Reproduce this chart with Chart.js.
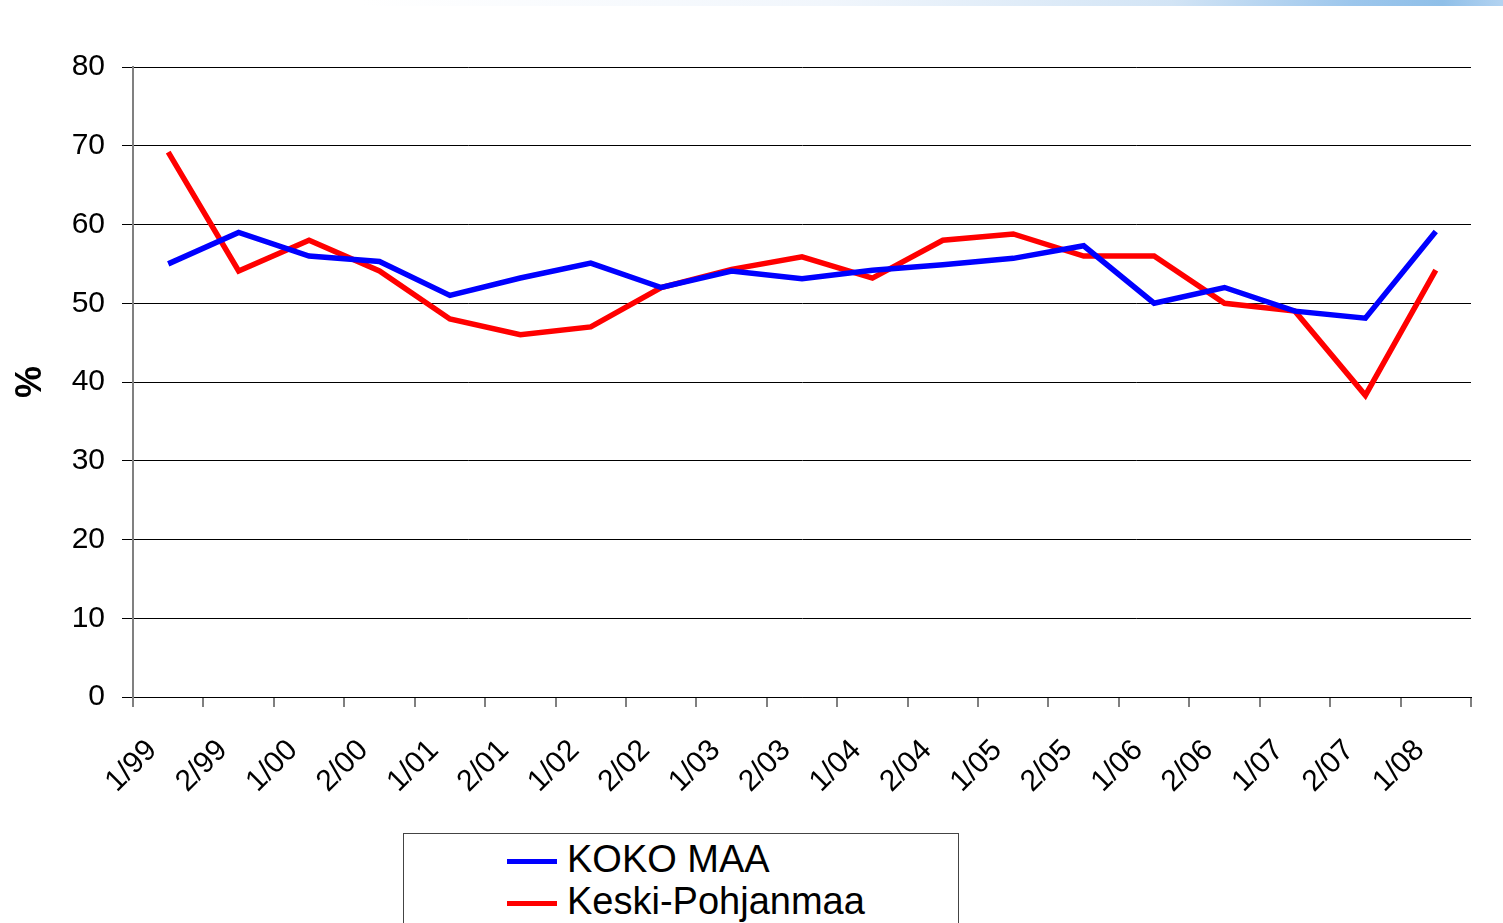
<!DOCTYPE html>
<html>
<head>
<meta charset="utf-8">
<script src="https://cdn.jsdelivr.net/npm/chart.js@4.4.1/dist/chart.umd.min.js"></script>
<style>
    html, body { margin: 0; padding: 0; background: #fff; overflow: hidden; }
    #wrap { position: relative; width: 1503px; height: 923px; overflow: hidden; }
    #topbar {
        position: absolute; left: 0; top: 0; width: 1503px; height: 6px;
        background: linear-gradient(to right, #ffffff 24%, #f1f6fc 55%, #d2e4f5 78%, #9cc6ec 90%, #8fbfe8 96%, #b3d3f1 100%);
    }
    #legend {
        position: absolute; left: 403px; top: 833px; width: 554px; height: 120px;
        border: 1px solid #444; background: #fff;
        font-family: "Liberation Sans", Arial, sans-serif; font-size: 38px; color: #000;
    }
    .item { position: absolute; left: 103px; height: 42px; line-height: 42px; white-space: nowrap; }
    .swatch { display: inline-block; width: 50px; height: 5px; vertical-align: middle; margin-right: 10px; }
</style>
</head>
<body>
<div id="wrap">
    <canvas id="chart" width="1503" height="923"></canvas>
    <div id="topbar"></div>
    <div id="legend"></div>
</div>
<script>
// ===============================
// DATA
// ===============================
const categories = ['1/99', '2/99', '1/00', '2/00', '1/01', '2/01', '1/02', '2/02', '1/03', '2/03',
    '1/04', '2/04', '1/05', '2/05', '1/06', '2/06', '1/07', '2/07', '1/08'];
const kokoMaa = [55, 59, 56, 55.3, 51, 53.2, 55.1, 52, 54.1, 53.1, 54.2, 54.9, 55.7, 57.3, 50, 52, 49, 48.1, 59.1];
const keskiPohjanmaa = [69.2, 54.1, 58, 54.1, 48, 46, 47, 52, 54.3, 55.9, 53.2, 58, 58.8, 56, 56, 50, 49, 38.3, 54.2];
const yTicks = [0, 10, 20, 30, 40, 50, 60, 70, 80];

const FONT = '"Liberation Sans", Arial, sans-serif';

const datasets = [
    { label: 'KOKO MAA', data: kokoMaa, borderColor: '#0000ff' },
    { label: 'Keski-Pohjanmaa', data: keskiPohjanmaa, borderColor: '#ff0000' }
].map(d => ({ ...d, borderWidth: 5.5, pointRadius: 0, tension: 0, fill: false }));

// ===============================
// LEGEND (html box at bottom)
// ===============================
const legendEl = document.getElementById('legend');
datasets.forEach((d, i) => {
    const row = document.createElement('div');
    row.className = 'item';
    row.style.top = (4 + i * 42) + 'px';
    row.innerHTML = '<span class="swatch" style="background:' + d.borderColor + '"></span>' + d.label;
    legendEl.appendChild(row);
});

// ===============================
// CHART
// ===============================
const ctx = document.getElementById('chart').getContext('2d');
new Chart(ctx, {
    type: 'line',
    data: { labels: categories, datasets: datasets },
    options: {
        responsive: false,
        animation: false,
        layout: { padding: { top: 67, right: 32, left: 0, bottom: 0 } },
        plugins: { legend: { display: false }, tooltip: { enabled: false } },
        scales: {
            x: {
                offset: true,
                grid: { offset: true, drawOnChartArea: false, color: '#808080', lineWidth: 2, tickLength: 10 },
                border: { color: '#000', width: 1 },
                ticks: {
                    color: '#000', font: { family: FONT, size: 30 },
                    minRotation: 45, maxRotation: 45, autoSkip: false, padding: 26, labelOffset: -16
                },
                afterFit: (scale) => { scale.height = 226; }
            },
            y: {
                min: 0, max: 80,
                afterBuildTicks: (scale) => { scale.ticks = yTicks.map(v => ({ value: v })); },
                grid: { color: '#000', lineWidth: 1, tickLength: 11 },
                border: { color: '#808080', width: 2 },
                ticks: { color: '#000', font: { family: FONT, size: 30 }, padding: 17 },
                title: { display: true, text: '%', color: '#000', font: { family: FONT, size: 36, weight: 'bold' }, padding: { top: 9, bottom: 0 } },
                afterFit: (scale) => { scale.width = 133; }
            }
        }
    }
});
</script>
</body>
</html>
